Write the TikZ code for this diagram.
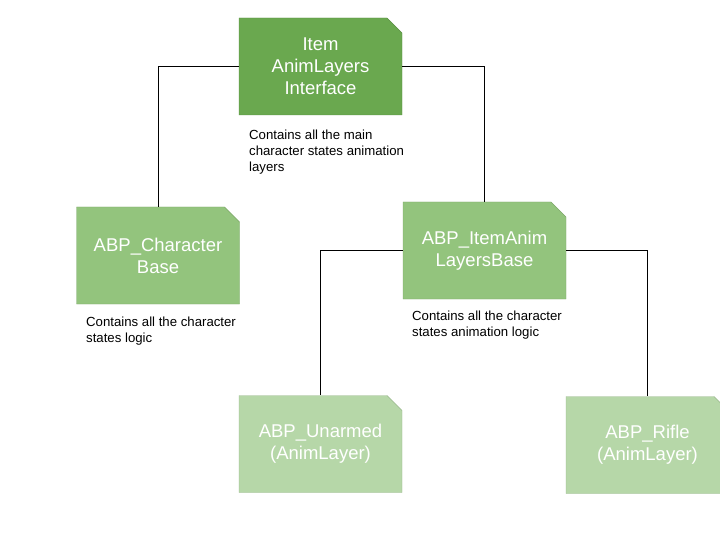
\documentclass[tikz,border=0pt]{standalone}
\usepackage{fontspec}
\setmainfont{Liberation Sans}
\usetikzlibrary{shapes.misc}
\definecolor{gdark}{HTML}{6AA84F}
\definecolor{gmid}{HTML}{93C47D}
\definecolor{glight}{HTML}{B6D7A8}
\tikzset{
	card/.style={chamfered rectangle, chamfered rectangle corners=north east,
		chamfered rectangle xsep=7.5pt, chamfered rectangle ysep=7.5pt,
		minimum width=163pt, minimum height=97pt, inner sep=0pt,
		draw=#1!85!black, fill=#1, text=white, align=center,
		font=\fontsize{18.5}{22}\selectfont},
	note/.style={anchor=north west, align=left, inner sep=0pt, font=\fontsize{13.2}{16}\selectfont}
}
\begin{document}
\begin{tikzpicture}[x=1pt,y=-1pt]
	\useasboundingbox (0,0) rectangle (720,540);
	\clip (0,0) rectangle (720,540);
	\node[card=gdark] (iface) at (320.5,66.5) {Item\\AnimLayers\\Interface};
	\node[card=gmid] (charbase) at (158,255.5) {ABP\_Character\\Base};
	\node[card=gmid] (itembase) at (484.5,250.5) {ABP\_ItemAnim\\LayersBase};
	\node[card=glight] (unarmed) at (320.5,444) {ABP\_Unarmed\\(AnimLayer)};
	\node[card=glight] (rifle) at (647.5,445) {ABP\_Rifle\\(AnimLayer)};
	\node[note] (ifacenote) at (249,130) {Contains all the main\\character states animation\\layers};
	\node[note] (charnote) at (86,317) {Contains all the character\\states logic};
	\node[note] (itemnote) at (412,311) {Contains all the character\\states animation logic};
	\draw (iface.west) -| (charbase.north);
	\draw (iface.east) -| (itembase.north);
	\draw (itembase.west) -| (unarmed.north);
	\draw (itembase.east) -| (rifle.north);
\end{tikzpicture}
\end{document}
